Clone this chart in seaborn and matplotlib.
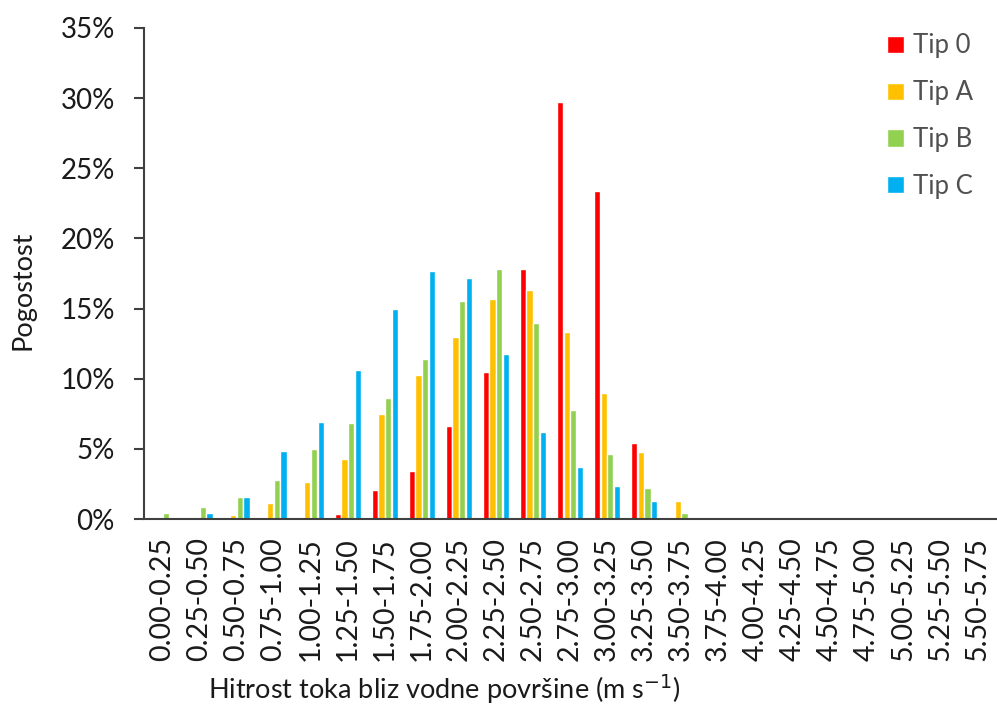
import numpy as np
import pandas as pd
import matplotlib
matplotlib.use("Agg")
import matplotlib.pyplot as plt
import seaborn as sns
from matplotlib.ticker import FuncFormatter, FixedLocator

categories = ["0.00-0.25", "0.25-0.50", "0.50-0.75", "0.75-1.00", "1.00-1.25",
              "1.25-1.50", "1.50-1.75", "1.75-2.00", "2.00-2.25", "2.25-2.50",
              "2.50-2.75", "2.75-3.00", "3.00-3.25", "3.25-3.50", "3.50-3.75",
              "3.75-4.00", "4.00-4.25", "4.25-4.50", "4.50-4.75", "4.75-5.00",
              "5.00-5.25", "5.25-5.50", "5.50-5.75"]
tip0 = [0.0, 0.03, 0.0, 0.05, 0.17, 0.36, 2.1, 3.4, 6.6, 10.5, 17.85, 29.75, 23.4, 5.45,
        0.0, 0.0, 0.0, 0.0, 0.0, 0.0, 0.0, 0.0, 0.0]
tipA = [0.0, 0.05, 0.3, 1.14, 2.66, 4.3, 7.5, 10.3, 12.95, 15.65, 16.35, 13.35, 9.0, 4.8,
        1.25, 0.02, 0.0, 0.0, 0.0, 0.0, 0.0, 0.0, 0.0]
tipB = [0.43, 0.88, 1.54, 2.8, 5.0, 6.87, 8.6, 11.4, 15.55, 17.8, 13.95, 7.8, 4.63, 2.2,
        0.4, 0.02, 0.0, 0.0, 0.0, 0.0, 0.0, 0.0, 0.0]
tipC = [0.1, 0.43, 1.6, 4.86, 6.9, 10.6, 15.0, 17.65, 17.2, 11.75, 6.22, 3.68, 2.37, 1.25,
        0.15, 0.02, 0.0, 0.0, 0.0, 0.0, 0.0, 0.0, 0.0]
series_names = ["Tip 0", "Tip A", "Tip B", "Tip C"]
colors = ["#FF0000", "#FFC000", "#92D050", "#00B0F0"]
y_ticks = [0, 5, 10, 15, 20, 25, 30, 35]

df = pd.DataFrame({
    "cat": categories * 4,
    "val": tip0 + tipA + tipB + tipC,
    "tip": sum([[n] * len(categories) for n in series_names], []),
})

sns.set_theme(style="white")
plt.rcParams["font.family"] = ["Lato", "DejaVu Sans"]

fig = plt.figure(figsize=(9.97, 7.07), dpi=100)
ax = fig.add_axes([0.1444, 0.2659, 0.8546, 0.6945])

sns.barplot(data=df, x="cat", y="val", hue="tip", order=categories,
            hue_order=series_names, palette=colors, width=0.72, gap=0.06,
            saturation=1, ax=ax, legend=True)

ax.set_xlim(-0.5, len(categories) - 0.5)
ax.set_ylim(0, 35)
ax.yaxis.set_major_locator(FixedLocator(y_ticks))
ax.yaxis.set_major_formatter(FuncFormatter(lambda v, p: f"{int(round(v))}%"))

for s in ["top", "right"]:
    ax.spines[s].set_visible(False)
for s in ["left", "bottom"]:
    ax.spines[s].set_color("#404040")
    ax.spines[s].set_linewidth(1.5)

txt = "#1a1a1a"
ax.set_xticks(range(len(categories)))
ax.set_xticklabels(categories, rotation=90, fontsize=20.5, color=txt)
ax.tick_params(axis="x", which="major", length=0, pad=13)
ax.set_xticks(np.arange(-0.5, len(categories), 1.0), minor=True)
ax.tick_params(axis="x", which="minor", length=7, width=1.5, color="#404040", direction="out")
ax.tick_params(axis="y", which="major", length=7, width=1.5, color="#404040",
               direction="out", labelsize=20, labelcolor=txt, left=True, pad=14)

ax.set_xlabel("Hitrost toka bliz vodne površine (m s$^{-1}$)", fontsize=19.5, color=txt)
ax.xaxis.set_label_coords(0.353, -0.312)
ax.set_ylabel("Pogostost", fontsize=19.5, color=txt)
ax.yaxis.set_label_coords(-0.127, 0.466)

leg = ax.legend(loc="upper right", frameon=False, fontsize=18.5, handlelength=0.65,
                handleheight=0.65, handletextpad=0.35, labelspacing=0.85,
                bbox_to_anchor=(0.985, 1.01), borderaxespad=0)
for t in leg.get_texts():
    t.set_color("#505050")

fig.savefig("out.png", dpi=100, facecolor="white")
